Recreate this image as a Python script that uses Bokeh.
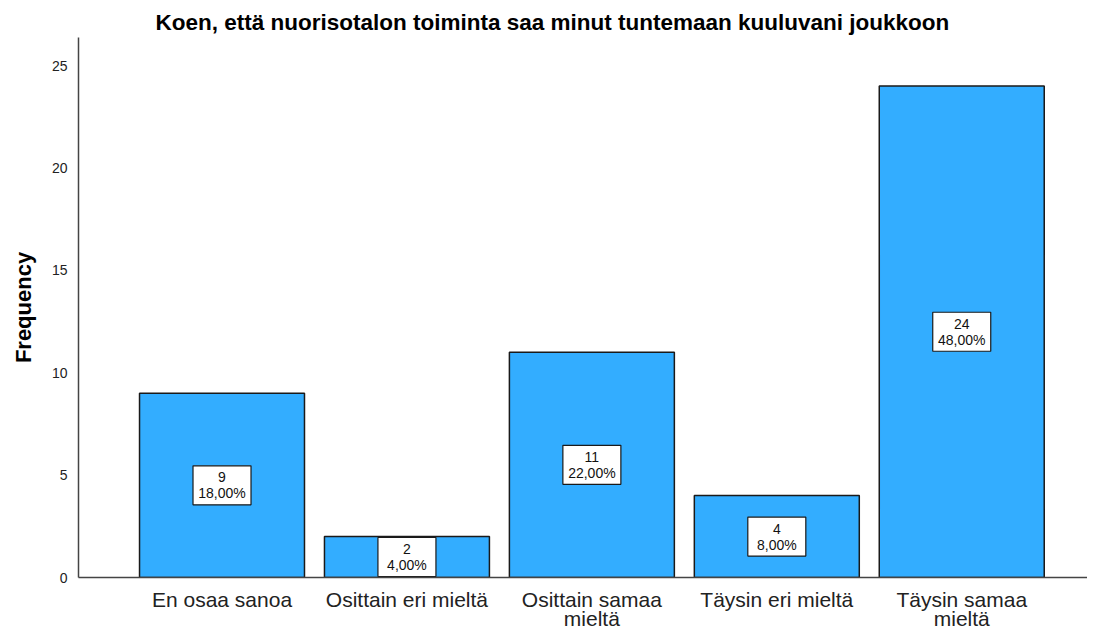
from bokeh.plotting import figure
from bokeh.models import FixedTicker, Range1d, ColumnDataSource
from bokeh.core.properties import value
from bokeh.embed import file_html
from bokeh.resources import INLINE

categories = ["En osaa sanoa", "Osittain eri mieltä", "Osittain samaa\nmieltä",
              "Täysin eri mieltä", "Täysin samaa\nmieltä"]
counts = [9, 2, 11, 4, 24]
percents = ["18,00%", "4,00%", "22,00%", "8,00%", "48,00%"]
y_ticks = [0, 5, 10, 15, 20, 25]
title_text = "Koen, että nuorisotalon toiminta saa minut tuntemaan kuuluvani joukkoon"

FONT = "Liberation Sans"
xs = list(range(len(categories)))

src = ColumnDataSource(dict(
    x=xs,
    top=counts,
    mid=[c / 2 for c in counts],
    cnt=[str(c) for c in counts],
    pct=percents,
))

p = figure(frame_width=1009, frame_height=540, output_backend="svg", toolbar_location=None,
           x_range=Range1d(-0.776, 4.68), y_range=Range1d(0, 26.37),
           min_border_left=78, min_border_right=0, min_border_top=37, min_border_bottom=52)

p.title.text = title_text
p.title.align = "left"
p.title.offset = 77
p.title.text_font = FONT
p.title.text_font_size = "22.5px"
p.title.text_font_style = "bold"
p.title.text_color = "#000000"
p.title.standoff = 5

p.vbar(x="x", top="top", width=0.892, bottom=0, source=src,
       fill_color="#33adff", line_color="#1a1a1a", line_width=1.5)

p.rect(x="x", y="mid", width=58, height=39, width_units="screen", height_units="screen",
       source=src, fill_color="white", line_color="#1a1a1a", line_width=1.2)
p.text(x="x", y="mid", text="cnt", source=src, text_align="center", text_baseline="middle",
       y_offset=-8, text_font=value(FONT), text_font_size="14px", text_color="#111111")
p.text(x="x", y="mid", text="pct", source=src, text_align="center", text_baseline="middle",
       y_offset=8, text_font=value(FONT), text_font_size="14px", text_color="#111111")

p.xaxis.ticker = FixedTicker(ticks=xs)
p.xaxis.major_label_overrides = {i: c for i, c in zip(xs, categories)}
p.xaxis.major_label_text_font = FONT
p.xaxis.major_label_text_font_size = "21px"
p.xaxis.major_label_text_color = "#222222"
p.xaxis.major_label_text_line_height = 0.85
p.xaxis.major_label_standoff = 10
p.xaxis.major_tick_out = 0
p.xaxis.major_tick_in = 0
p.xaxis.major_tick_line_color = None
p.xaxis.minor_tick_line_color = None
p.xaxis.axis_line_color = "#444444"
p.xaxis.axis_line_width = 1.5

p.yaxis.ticker = FixedTicker(ticks=y_ticks)
p.yaxis.major_label_text_font = FONT
p.yaxis.major_label_text_font_size = "14px"
p.yaxis.major_label_text_color = "#222222"
p.yaxis.major_label_standoff = 11
p.yaxis.major_tick_out = 0
p.yaxis.major_tick_in = 0
p.yaxis.major_tick_line_color = None
p.yaxis.minor_tick_line_color = None
p.yaxis.axis_line_color = "#444444"
p.yaxis.axis_line_width = 1.5
p.yaxis.axis_label = "Frequency"
p.yaxis.axis_label_text_font = FONT
p.yaxis.axis_label_text_font_size = "22px"
p.yaxis.axis_label_text_font_style = "bold"
p.yaxis.axis_label_text_color = "#000000"
p.yaxis.axis_label_standoff = 13

p.xgrid.grid_line_color = None
p.ygrid.grid_line_color = None
p.outline_line_color = None

open("out.html", "w").write(file_html(p, INLINE))
